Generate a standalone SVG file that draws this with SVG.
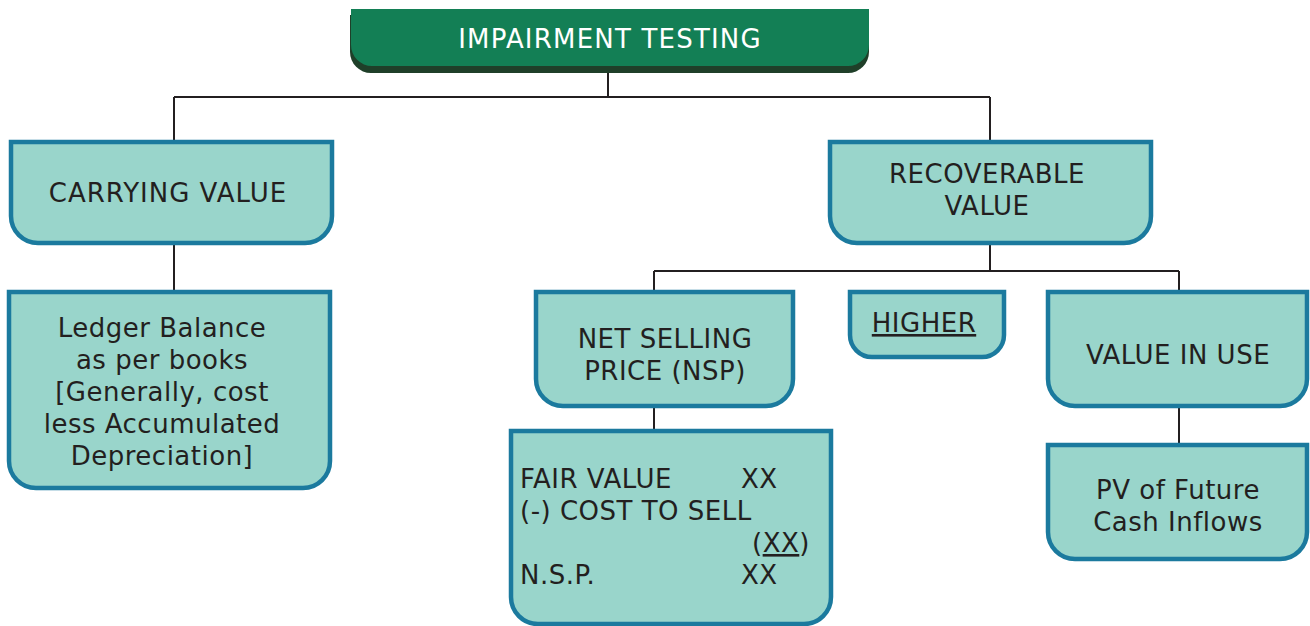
<svg xmlns="http://www.w3.org/2000/svg" width="1310" height="626" viewBox="0 0 1310 626">
<style>
.box{fill:#99d5cb;stroke:#1b7a9e;stroke-width:4.5}
.t{font-family:"DejaVu Sans",Verdana,sans-serif;font-size:26px;letter-spacing:0.5px;fill:#231f20;text-anchor:middle}
.tl{font-family:"DejaVu Sans",Verdana,sans-serif;font-size:26px;letter-spacing:0.5px;fill:#231f20}
.c{fill:none;stroke:#231f20;stroke-width:2}
</style>
<rect width="1310" height="626" fill="#fff"/>
<g id="connectors">
<path class="c" d="M608 66V97M174 97H990M174 97V141M990 97V141"/>
<path class="c" d="M174 244V291"/>
<path class="c" d="M990 244V271M654 271H1179M654 271V291M1179 271V291"/>
<path class="c" d="M654 407V430"/>
<path class="c" d="M1179 407V444"/>
</g>
<g id="header">
<path d="M350 15H869V52A21 21 0 0 1 848 73H371A21 21 0 0 1 350 52Z" fill="#1f3f29"/>
<path d="M351 9H869V45A21 21 0 0 1 848 66H372A21 21 0 0 1 351 45Z" fill="#137f55"/>
<text x="610" y="48" class="t" style="fill:#fff;letter-spacing:1.2px">IMPAIRMENT TESTING</text>
</g>
<g id="carrying">
<path class="box" d="M11 142H332V216A27 27 0 0 1 305 243H38A27 27 0 0 1 11 216Z"/>
<text x="168" y="202" class="t" style="letter-spacing:1px">CARRYING VALUE</text>
</g>
<g id="recoverable">
<path class="box" d="M830 142H1151V216A27 27 0 0 1 1124 243H857A27 27 0 0 1 830 216Z"/>
<text x="987" y="183" class="t">RECOVERABLE</text>
<text x="987" y="215" class="t">VALUE</text>
</g>
<g id="ledger">
<path class="box" d="M9 292H330V461A27 27 0 0 1 303 488H36A27 27 0 0 1 9 461Z"/>
<text class="t"><tspan x="162" y="337">Ledger Balance</tspan><tspan x="162" y="369">as per books</tspan><tspan x="162" y="401">[Generally, cost</tspan><tspan x="162" y="433">less Accumulated</tspan><tspan x="162" y="465">Depreciation]</tspan></text>
</g>
<g id="nsp">
<path class="box" d="M536 292H793V379A27 27 0 0 1 766 406H563A27 27 0 0 1 536 379Z"/>
<text x="665" y="348" class="t">NET SELLING</text>
<text x="665" y="380" class="t">PRICE (NSP)</text>
</g>
<g id="higher">
<path class="box" d="M850 292H1004V335A22 22 0 0 1 982 357H872A22 22 0 0 1 850 335Z"/>
<text x="924" y="332" class="t" text-decoration="underline">HIGHER</text>
</g>
<g id="valueinuse">
<path class="box" d="M1048 292H1307V379A27 27 0 0 1 1280 406H1075A27 27 0 0 1 1048 379Z"/>
<text x="1178" y="364" class="t">VALUE IN USE</text>
</g>
<g id="nspcalc">
<path class="box" d="M511 431H831V597A27 27 0 0 1 804 624H538A27 27 0 0 1 511 597Z"/>
<text class="tl"><tspan x="520" y="488">FAIR VALUE</tspan><tspan x="741" y="488">XX</tspan><tspan x="520" y="520">(-) COST TO SELL</tspan><tspan x="752" y="552">(</tspan><tspan text-decoration="underline">XX</tspan><tspan>)</tspan><tspan x="520" y="584">N.S.P.</tspan><tspan x="741" y="584">XX</tspan></text>
</g>
<g id="pv">
<path class="box" d="M1048 445H1307V532A27 27 0 0 1 1280 559H1075A27 27 0 0 1 1048 532Z"/>
<text x="1178" y="499" class="t">PV of Future</text>
<text x="1178" y="531" class="t">Cash Inflows</text>
</g>
</svg>
